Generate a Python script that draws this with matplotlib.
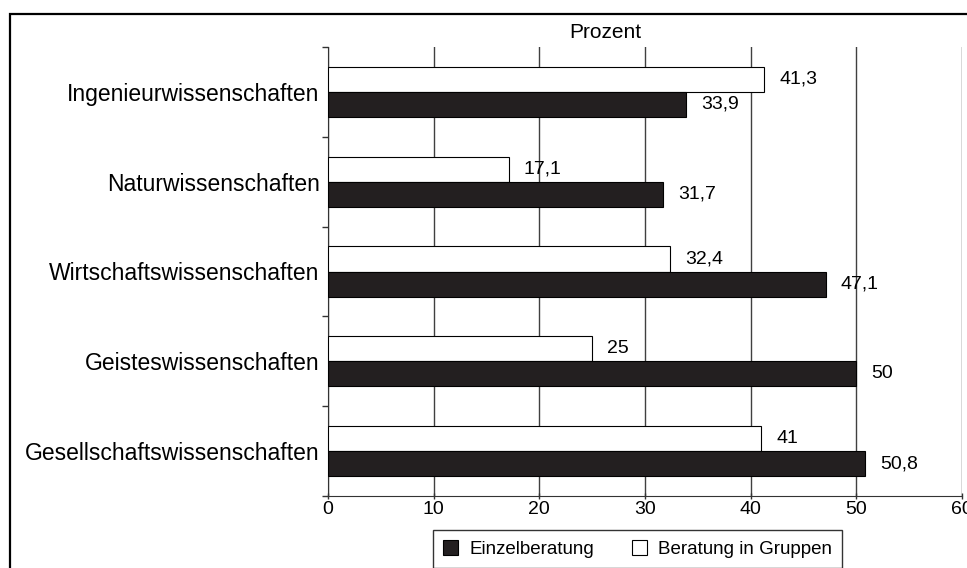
import matplotlib
matplotlib.use('agg')
import matplotlib.pyplot as plt
import numpy as np
from matplotlib.patches import Rectangle

plt.rcParams['font.family'] = ['Liberation Sans', 'DejaVu Sans']

categories = ['Ingenieurwissenschaften', 'Naturwissenschaften',
              'Wirtschaftswissenschaften', 'Geisteswissenschaften',
              'Gesellschaftswissenschaften']
einzel = [33.9, 31.7, 47.1, 50.0, 50.8]
gruppen = [41.3, 17.1, 32.4, 25.0, 41.0]
einzel_labels = ['33,9', '31,7', '47,1', '50', '50,8']
gruppen_labels = ['41,3', '17,1', '32,4', '25', '41']

W, H = 967, 568
fig = plt.figure(figsize=(W / 100, H / 100), dpi=100)
ax = fig.add_axes([328 / W, 1 - 496 / H, (962 - 328) / W, (496 - 47) / H])

y = np.arange(len(categories))
h = 0.28
dark = '#231f20'

ax.barh(y - h / 2, gruppen, height=h, color='white', edgecolor='black',
        linewidth=0.8, zorder=3, label='Beratung in Gruppen')
ax.barh(y + h / 2, einzel, height=h, color=dark, edgecolor='black',
        linewidth=0.8, zorder=3, label='Einzelberatung')

for i in range(len(categories)):
    ax.annotate(gruppen_labels[i], (gruppen[i], y[i] - h / 2), xytext=(11, 0),
                textcoords='offset points', ha='left', va='center', fontsize=14)
    ax.annotate(einzel_labels[i], (einzel[i], y[i] + h / 2), xytext=(11, 0),
                textcoords='offset points', ha='left', va='center', fontsize=14)

ax.set_xlim(0, 60)
ax.set_ylim(len(categories) - 0.5, -0.5)
ax.set_xticks(np.arange(0, 61, 10))
ax.tick_params(axis='x', labelsize=14, length=5, width=1, direction='inout',
               pad=1, color='#333333')
ax.set_yticks(y)
ax.set_yticklabels(categories, fontsize=16.5)
ax.tick_params(axis='y', which='major', length=0, pad=6)
ax.set_yticks(np.arange(-0.5, len(categories)), minor=True)
ax.tick_params(axis='y', which='minor', length=4, width=1, color='#333333')

ax.grid(axis='x', color='#404040', linewidth=1, zorder=0)
ax.set_axisbelow(True)
for s in ['top', 'right']:
    ax.spines[s].set_visible(False)
ax.spines['left'].set_color('#333333')
ax.spines['bottom'].set_color('#333333')

fig.text(605 / W, 1 - 32 / H, 'Prozent', ha='center', va='center', fontsize=15)

handles, labels = ax.get_legend_handles_labels()
leg = fig.legend(handles[::-1], labels[::-1], ncol=2, loc='upper left',
                 bbox_to_anchor=(433 / W, 1 - 530 / H), fontsize=13.5,
                 frameon=True, fancybox=False, edgecolor='black',
                 handlelength=0.8, handleheight=0.8, columnspacing=2.0,
                 borderpad=0.55, borderaxespad=0, handletextpad=0.6)
leg.get_frame().set_linewidth(1)

fig.patches.append(Rectangle((10 / W, -0.1), 1.1, 1 - 14 / H + 0.1,
                             transform=fig.transFigure, fill=False,
                             edgecolor='black', linewidth=1.6))

fig.savefig('out.png', dpi=100)
